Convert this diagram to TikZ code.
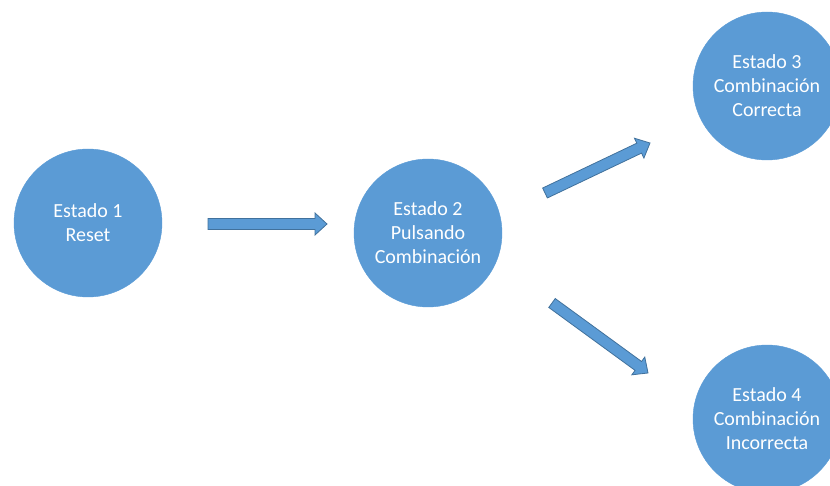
\documentclass[tikz,border=0pt]{standalone}
\usepackage{fontspec}
\setmainfont{Carlito}
\usetikzlibrary{calc}
\definecolor{stateblue}{HTML}{5B9BD5}
\definecolor{stateedge}{HTML}{41719C}
\tikzset{
  state/.style={circle, fill=stateblue, draw=stateblue, minimum size=148pt, inner sep=0pt,
    text=white, align=center, font=\fontsize{20}{24}\selectfont},
  blockarrow/.style={fill=stateblue, draw=stateedge, line width=0.8pt, line join=miter},
}
% thick block arrow from #1 to #2
\newcommand\fatarrow[2]{%
  \path ($(#2)!12pt!(#1)$) coordinate (hb);
  \draw[blockarrow]
    ($(#1)!5.5pt!90:(#2)$) -- ($(hb)!5.5pt!-90:(#1)$) -- ($(hb)!11pt!-90:(#1)$) --
    (#2) -- ($(hb)!11pt!90:(#1)$) -- ($(hb)!5.5pt!90:(#1)$) --
    ($(#1)!5.5pt!-90:(#2)$) -- cycle;}
\begin{document}
\begin{tikzpicture}[x=1pt, y=-1pt]
  \useasboundingbox (0,0) rectangle (830,486);
  \clip (0,0) rectangle (830,486);
  \node[state] (e1) at (88,223) {Estado 1\\Reset};
  \node[state] (e2) at (428,233) {Estado 2\\Pulsando\\Combinación};
  \node[state] (e3) at (767,86) {Estado 3\\Combinación\\Correcta};
  \node[state] (e4) at (767,419) {Estado 4\\Combinación\\Incorrecta};
  \coordinate (a1s) at (208,224);
  \coordinate (a1e) at (327,224);
  \coordinate (a2s) at (545,193);
  \coordinate (a2e) at (650,143);
  \coordinate (a3s) at (552,303);
  \coordinate (a3e) at (648,373);
  \fatarrow{a1s}{a1e}
  \fatarrow{a2s}{a2e}
  \fatarrow{a3s}{a3e}
\end{tikzpicture}
\end{document}
